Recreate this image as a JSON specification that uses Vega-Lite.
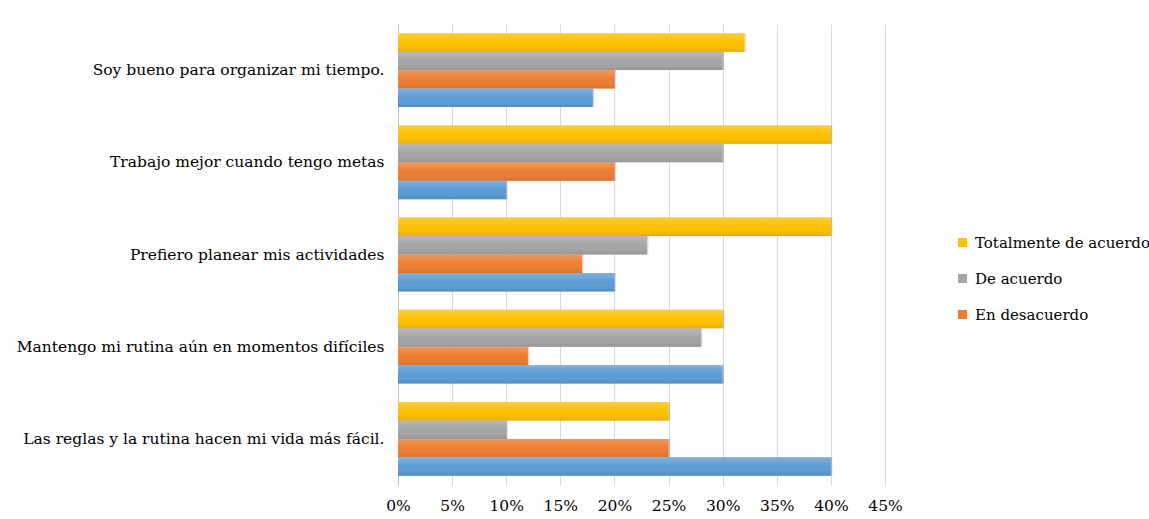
{
  "$schema": "https://vega.github.io/schema/vega-lite/v6.json",
  "width": 487,
  "height": 461,
  "autosize": {"type": "none"},
  "padding": {"left": 398, "top": 24, "right": 264, "bottom": 34},
  "background": "white",
  "config": {"view": {"stroke": null}, "font": "DejaVu Serif"},
  "data": {
    "values": [
      {"item": "Soy bueno para organizar mi tiempo.", "resp": "Totalmente de acuerdo", "pct": 0.32},
      {"item": "Soy bueno para organizar mi tiempo.", "resp": "De acuerdo", "pct": 0.30},
      {"item": "Soy bueno para organizar mi tiempo.", "resp": "En desacuerdo", "pct": 0.20},
      {"item": "Soy bueno para organizar mi tiempo.", "resp": "Totalmente en desacuerdo", "pct": 0.18},
      {"item": "Trabajo mejor cuando tengo metas", "resp": "Totalmente de acuerdo", "pct": 0.40},
      {"item": "Trabajo mejor cuando tengo metas", "resp": "De acuerdo", "pct": 0.30},
      {"item": "Trabajo mejor cuando tengo metas", "resp": "En desacuerdo", "pct": 0.20},
      {"item": "Trabajo mejor cuando tengo metas", "resp": "Totalmente en desacuerdo", "pct": 0.10},
      {"item": "Prefiero planear mis actividades", "resp": "Totalmente de acuerdo", "pct": 0.40},
      {"item": "Prefiero planear mis actividades", "resp": "De acuerdo", "pct": 0.23},
      {"item": "Prefiero planear mis actividades", "resp": "En desacuerdo", "pct": 0.17},
      {"item": "Prefiero planear mis actividades", "resp": "Totalmente en desacuerdo", "pct": 0.20},
      {"item": "Mantengo mi rutina aún en momentos difíciles", "resp": "Totalmente de acuerdo", "pct": 0.30},
      {"item": "Mantengo mi rutina aún en momentos difíciles", "resp": "De acuerdo", "pct": 0.28},
      {"item": "Mantengo mi rutina aún en momentos difíciles", "resp": "En desacuerdo", "pct": 0.12},
      {"item": "Mantengo mi rutina aún en momentos difíciles", "resp": "Totalmente en desacuerdo", "pct": 0.30},
      {"item": "Las reglas y la rutina hacen mi vida más fácil.", "resp": "Totalmente de acuerdo", "pct": 0.25},
      {"item": "Las reglas y la rutina hacen mi vida más fácil.", "resp": "De acuerdo", "pct": 0.10},
      {"item": "Las reglas y la rutina hacen mi vida más fácil.", "resp": "En desacuerdo", "pct": 0.25},
      {"item": "Las reglas y la rutina hacen mi vida más fácil.", "resp": "Totalmente en desacuerdo", "pct": 0.40}
    ]
  },
  "encoding": {
    "y": {
      "field": "item",
      "type": "nominal",
      "sort": [
        "Soy bueno para organizar mi tiempo.",
        "Trabajo mejor cuando tengo metas",
        "Prefiero planear mis actividades",
        "Mantengo mi rutina aún en momentos difíciles",
        "Las reglas y la rutina hacen mi vida más fácil."
      ],
      "scale": {"paddingInner": 0, "paddingOuter": 0},
      "axis": {
        "title": null,
        "ticks": false,
        "labelPadding": 14,
        "labelFontSize": 15.5,
        "labelColor": "#000000",
        "domainColor": "#bfbfbf",
        "labelLimit": 450
      }
    },
    "yOffset": {
      "field": "resp",
      "type": "nominal",
      "sort": ["Totalmente de acuerdo", "De acuerdo", "En desacuerdo", "Totalmente en desacuerdo"],
      "scale": {"paddingInner": 0, "paddingOuter": 0.5}
    },
    "x": {
      "field": "pct",
      "type": "quantitative",
      "scale": {"domain": [0, 0.45]},
      "axis": {
        "title": null,
        "format": ".0%",
        "values": [0, 0.05, 0.1, 0.15, 0.2, 0.25, 0.3, 0.35, 0.4, 0.45],
        "domain": false,
        "ticks": false,
        "labelFlush": false,
        "gridColor": "#d9d9d9",
        "labelFontSize": 15.5,
        "labelPadding": 13,
        "labelColor": "#000000"
      }
    }
  },
  "layer": [
    {
      "mark": {"type": "bar", "xOffset": 1.5, "color": "#000000", "opacity": 0.15}
    },
    {
      "mark": {"type": "bar"},
      "encoding": {
        "color": {
          "field": "resp",
          "type": "nominal",
          "scale": {
            "domain": ["Totalmente de acuerdo", "De acuerdo", "En desacuerdo", "Totalmente en desacuerdo"],
            "range": ["#FFC000", "#A5A5A5", "#ED7D31", "#5B9BD5"]
          },
          "legend": {
            "orient": "none",
            "legendX": 557,
            "legendY": 211,
            "title": null,
            "values": ["Totalmente de acuerdo", "De acuerdo", "En desacuerdo"],
            "symbolType": "square",
            "symbolSize": 81,
            "symbolStrokeWidth": 0,
            "labelFontSize": 15,
            "labelColor": "#000000",
            "labelOffset": 5,
            "rowPadding": 20,
            "padding": 0,
            "labelLimit": 300
          }
        }
      }
    },
    {
      "mark": {
        "type": "bar",
        "fill": {
          "gradient": "linear",
          "x1": 0, "y1": 0, "x2": 0, "y2": 1,
          "stops": [
            {"offset": 0, "color": "rgba(255,255,255,0.22)"},
            {"offset": 0.5, "color": "rgba(255,255,255,0)"},
            {"offset": 1, "color": "rgba(0,0,0,0.1)"}
          ]
        }
      }
    }
  ]
}
